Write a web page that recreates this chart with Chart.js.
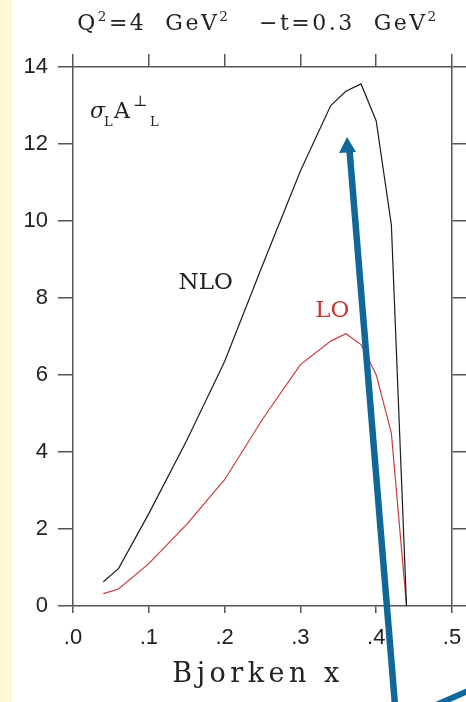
<!DOCTYPE html>
<html>
<head>
<meta charset="utf-8">
<title>sigma_L A_L</title>
<script src="https://cdn.jsdelivr.net/npm/chart.js@4.4.1/dist/chart.umd.min.js"></script>
<style>
    html, body { margin: 0; padding: 0; background: #fff; }
    #wrap { width: 466px; height: 702px; position: relative; }
</style>
</head>
<body>
<div id="wrap"><canvas id="plot"></canvas></div>
<script>
// values
const xBjorken = [0.04, 0.06, 0.10, 0.15, 0.20, 0.25, 0.30, 0.34, 0.36, 0.38, 0.40, 0.42, 0.44];
const nloValues = [0.63, 0.97, 2.40, 4.30, 6.35, 8.85, 11.3, 13.0, 13.37, 13.56, 12.6, 9.9, 0];
const loValues = [0.32, 0.44, 1.10, 2.12, 3.28, 4.85, 6.27, 6.88, 7.07, 6.79, 6.01, 4.49, 0];
const xTicks = [0, 0.1, 0.2, 0.3, 0.4, 0.5];
const yTicks = [0, 2, 4, 6, 8, 10, 12, 14];

const AXIS = '#555';
const SERIF = '"DejaVu Serif", serif';

document.addEventListener('DOMContentLoaded', () => {
    buildChart();
});

function toPoints(xs, ys) {
    return xs.map((x, i) => ({ x: x, y: ys[i] }));
}

// draws text made of pieces, some raised or lowered
function drawRich(ctx, parts, x, y, size, spacing) {
    ctx.save();
    ctx.letterSpacing = spacing + 'px';
    ctx.textBaseline = 'alphabetic';
    let w = 0;
    parts.forEach(p => {
        ctx.font = (p.sup || p.sub ? size * 0.62 : size) + 'px ' + SERIF;
        p.w = ctx.measureText(p.t).width;
        w += p.w;
    });
    let cx = x - w / 2;
    parts.forEach(p => {
        ctx.font = (p.sup || p.sub ? size * 0.62 : size) + 'px ' + SERIF;
        let dy = 0;
        if (p.sup) dy = -size * 0.42;
        if (p.sub) dy = size * 0.3;
        ctx.fillText(p.t, cx, y + dy);
        cx += p.w;
    });
    ctx.restore();
}

const decorPlugin = {
    id: 'decor',
    beforeDraw(chart) {
        const ctx = chart.ctx;
        ctx.save();
        ctx.fillStyle = '#fff';
        ctx.fillRect(0, 0, chart.width, chart.height);
        ctx.fillStyle = '#fef9d4';
        ctx.fillRect(0, 0, 12, chart.height);
        ctx.restore();
    },
    afterDraw(chart) {
        const ctx = chart.ctx;
        const xs = chart.scales.x;
        const ys = chart.scales.y;

        ctx.fillStyle = '#222';
        drawRich(ctx, [
            { t: 'Q' }, { t: '2', sup: true }, { t: '=4  GeV' }, { t: '2', sup: true },
            { t: '   \u2212t=0.3  GeV' }, { t: '2', sup: true }
        ], 258, 30, 22, 2.5);

        drawRich(ctx, [{ t: 'Bjorken x' }], 258, 682, 27, 4.5);

        // σ_L A^⊥_L
        ctx.save();
        ctx.font = 'italic 22px ' + SERIF;
        ctx.fillText('\u03c3', 90, 118);
        ctx.font = '13px ' + SERIF;
        ctx.fillText('L', 104, 126);
        ctx.font = '22px ' + SERIF;
        ctx.fillText('A', 114, 118);
        ctx.font = '15px ' + SERIF;
        ctx.fillText('\u22a5', 133, 106);
        ctx.font = '13px ' + SERIF;
        ctx.fillText('L', 150, 126);
        ctx.restore();

        ctx.save();
        ctx.font = '23px ' + SERIF;
        ctx.textAlign = 'center';
        ctx.textBaseline = 'middle';
        ctx.fillStyle = '#222';
        ctx.fillText('NLO', xs.getPixelForValue(0.175), ys.getPixelForValue(8.4));
        ctx.fillStyle = '#c43a3a';
        ctx.fillText('LO', xs.getPixelForValue(0.342), ys.getPixelForValue(7.65));
        ctx.restore();

        // blue arrows laid over the figure
        ctx.save();
        ctx.strokeStyle = '#10689a';
        ctx.fillStyle = '#10689a';
        ctx.lineWidth = 6.5;
        ctx.beginPath();
        ctx.moveTo(395, 705);
        ctx.lineTo(349.5, 150);
        ctx.stroke();
        ctx.beginPath();
        ctx.moveTo(347, 137);
        ctx.lineTo(339, 153);
        ctx.lineTo(356, 152);
        ctx.closePath();
        ctx.fill();
        ctx.lineWidth = 6;
        ctx.beginPath();
        ctx.moveTo(436, 705);
        ctx.lineTo(470, 690);
        ctx.stroke();
        ctx.restore();
    }
};

function fixedSize(prop, v) {
    return (scale) => {
        scale[prop] = v;
        scale.paddingLeft = 0;
        scale.paddingRight = 0;
        scale.paddingTop = 0;
        scale.paddingBottom = 0;
    };
}

function buildChart() {
    const ctx = document.getElementById('plot').getContext('2d');

    new Chart(ctx, {
        type: 'scatter',
        data: {
            datasets: [
                {
                    label: 'NLO',
                    data: toPoints(xBjorken, nloValues),
                    showLine: true,
                    borderColor: '#1c1c1c',
                    borderWidth: 1.2,
                    pointRadius: 0,
                    tension: 0
                },
                {
                    label: 'LO',
                    data: toPoints(xBjorken, loValues),
                    showLine: true,
                    borderColor: '#cc3b3b',
                    borderWidth: 1.2,
                    pointRadius: 0,
                    tension: 0
                }
            ]
        },
        options: {
            responsive: true,
            maintainAspectRatio: false,
            animation: false,
            layout: { padding: 0 },
            plugins: {
                legend: { display: false },
                tooltip: { enabled: false }
            },
            scales: {
                x: {
                    type: 'linear', position: 'bottom', min: 0, max: 0.5,
                    afterBuildTicks: (s) => { s.ticks = xTicks.map(v => ({ value: v })); },
                    afterFit: fixedSize('height', 96),
                    ticks: {
                        padding: 12,
                        color: '#222',
                        font: { family: '"Liberation Sans", Arial', size: 22 },
                        callback: (v) => '.' + Math.round(v * 10)
                    },
                    grid: { drawOnChartArea: false, tickLength: 7, color: AXIS, lineWidth: 1.5 },
                    border: { color: AXIS, width: 1.5 }
                },
                xTop: {
                    type: 'linear', position: 'top', min: 0, max: 0.5,
                    afterBuildTicks: (s) => { s.ticks = xTicks.map(v => ({ value: v })); },
                    afterFit: fixedSize('height', 67),
                    ticks: { display: false },
                    grid: { drawOnChartArea: false, tickLength: 13, color: AXIS, lineWidth: 1.5 },
                    border: { color: AXIS, width: 1.5 }
                },
                y: {
                    type: 'linear', position: 'left', min: 0, max: 14,
                    afterBuildTicks: (s) => { s.ticks = yTicks.map(v => ({ value: v })); },
                    afterFit: fixedSize('width', 73),
                    ticks: {
                        padding: 10,
                        color: '#222',
                        font: { family: '"Liberation Sans", Arial', size: 22 }
                    },
                    grid: { drawOnChartArea: false, tickLength: 15, color: AXIS, lineWidth: 1.5 },
                    border: { color: AXIS, width: 1.5 }
                },
                yRight: {
                    type: 'linear', position: 'right', min: 0, max: 14,
                    afterBuildTicks: (s) => { s.ticks = yTicks.map(v => ({ value: v })); },
                    afterFit: fixedSize('width', 14),
                    ticks: { display: false },
                    grid: { drawOnChartArea: false, tickLength: 14, color: AXIS, lineWidth: 1.5 },
                    border: { color: AXIS, width: 1.5 }
                }
            }
        },
        plugins: [decorPlugin]
    });
}
</script>
</body>
</html>
